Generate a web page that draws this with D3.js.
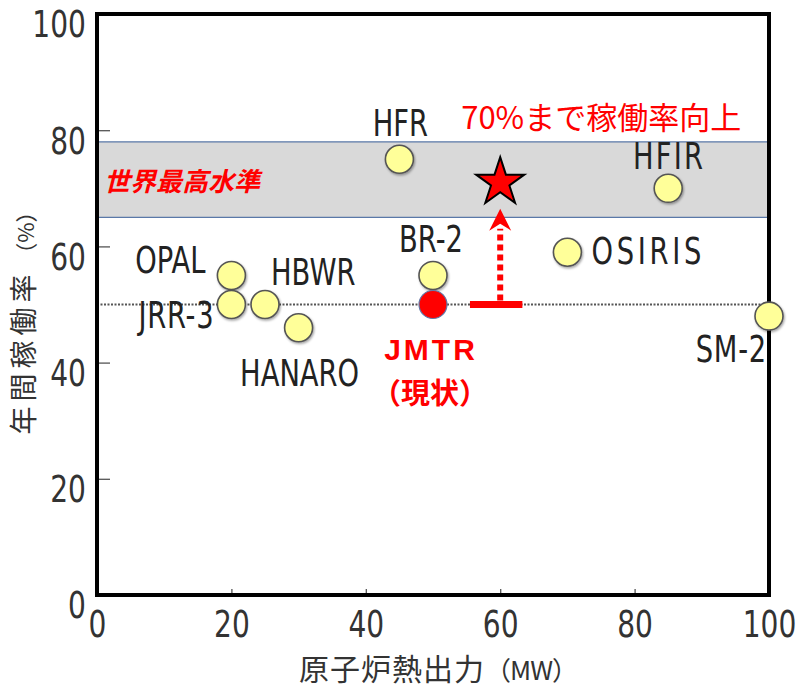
<!DOCTYPE html>
<html>
<head>
    <meta charset="utf-8" />
    <title>JMTR 稼働率</title>
    <script src="https://d3js.org/d3.v7.min.js"></script>
    <style>
        body { margin: 0; background: #fff; }
        .tick text { font-family: "DejaVu Sans", sans-serif; fill: #333; }
        .lbl { font-family: "DejaVu Sans", sans-serif; fill: #222; }
        .jp { font-family: "Noto Sans CJK JP", sans-serif; }
    </style>
</head>
<body>
<svg width="808" height="692"></svg>
<script>
// reactors: thermal power (MW) and annual operating rate (%)
const names  = ["OPAL", "JRR-3", "HBWR", "HANARO", "BR-2", "HFR", "OSIRIS", "HFIR", "SM-2"];
const power  = [20, 20, 25, 30, 50, 45, 70, 85, 100];
const rate   = [55, 50, 50, 46, 55, 75, 59, 70, 48];

const jmtr = {name: "JMTR", power: 50, rate: 50};
const target = {power: 60, rate: 71};
const arrowFrom = 50, arrowTo = 66.5;
const barFrom = 55.5, barTo = 63.3;
const bandLow = 65, bandHigh = 78;
const refLine = 50;

const xTicks = [0, 20, 40, 60, 80, 100];
const yTicks = [0, 20, 40, 60, 80, 100];

const svg = d3.select('svg');
const width = +svg.attr('width');
const height = +svg.attr('height');

const narrow = 0.74;   // the original uses a condensed gothic face

// label placement for each reactor name
const labelPos = {
    "OPAL":   {dx: -26, dy: -2,  anchor: "end"},
    "JRR-3":  {dx: -17, dy: 23,  anchor: "end", spacing: 1},
    "HBWR":   {dx: 6,   dy: -20, anchor: "start"},
    "HANARO": {dx: 1,   dy: 58,  anchor: "middle"},
    "BR-2":   {dx: -2,  dy: -23, anchor: "middle"},
    "HFR":    {dx: 1,   dy: -23, anchor: "middle"},
    "OSIRIS": {dx: 24,  dy: 12,  anchor: "start", spacing: 5},
    "HFIR":   {dx: 1,   dy: -19, anchor: "middle", spacing: 3},
    "SM-2":   {dx: -2,  dy: 46,  anchor: "end", spacing: 1}
};

const render = () => {
    const margin = {top: 14, right: 39, bottom: 97, left: 97};
    const innerwidth = width - margin.left - margin.right;
    const innerheight = height - margin.top - margin.bottom;

    const defs = svg.append('defs');
    const f = defs.append('filter').attr('id', 'sh')
        .attr('x', '-30%').attr('y', '-30%').attr('width', '160%').attr('height', '160%');
    f.append('feDropShadow').attr('dx', 1).attr('dy', 1.5)
        .attr('stdDeviation', 1).attr('flood-color', '#000').attr('flood-opacity', 0.35);

    const g = svg.append('g')
        .attr('transform', "translate(" + margin.left + "," + margin.top + ")");

    const xscale = d3.scaleLinear().domain([0, 100]).range([0, innerwidth]);
    const yscale = d3.scaleLinear().domain([0, 100]).range([innerheight, 0]);

    // world top level band
    g.append('rect')
        .attr('x', 0).attr('width', innerwidth)
        .attr('y', yscale(bandHigh))
        .attr('height', yscale(bandLow) - yscale(bandHigh))
        .attr('fill', '#d9d9d9');
    [bandLow, bandHigh].forEach(v => {
        g.append('line')
            .attr('x1', 0).attr('x2', innerwidth)
            .attr('y1', yscale(v)).attr('y2', yscale(v))
            .attr('stroke', '#5a78a8').attr('stroke-width', 1.2);
    });
    g.append('text')
        .attr('class', 'jp')
        .attr('x', 7).attr('y', yscale(bandHigh) + 49)
        .attr('fill', '#ff0000')
        .attr('font-size', 26).attr('font-weight', 'bold')
        .attr('font-style', 'italic')
        .text('世界最高水準');

    // current level dotted line
    g.append('line')
        .attr('x1', 0).attr('x2', innerwidth)
        .attr('y1', yscale(refLine)).attr('y2', yscale(refLine))
        .attr('stroke', '#555').attr('stroke-width', 2)
        .attr('stroke-dasharray', '2,1.5');

    // axes
    const yaxisG = g.append('g')
        .call(d3.axisRight(yscale).tickValues(yTicks).tickSize(13));
    yaxisG.select('.domain').remove();
    yaxisG.selectAll('.tick line').attr('stroke', '#555').attr('stroke-width', 1.3);
    yaxisG.selectAll('.tick text')
        .attr('text-anchor', 'end').attr('x', 0).attr('dy', '0.6em')
        .attr('transform', "translate(-11,0) scale(" + narrow + ",1)")
        .attr('font-size', 38);

    const xaxisG = g.append('g')
        .attr('transform', "translate(0," + innerheight + ")")
        .call(d3.axisTop(xscale).tickValues(xTicks).tickSize(6));
    xaxisG.select('.domain').remove();
    xaxisG.selectAll('.tick line').attr('stroke', '#555').attr('stroke-width', 1.3);
    xaxisG.selectAll('.tick text')
        .attr('y', 42).attr('dy', 0)
        .attr('transform', "scale(" + narrow + ",1)")
        .attr('font-size', 38);

    // frame
    g.append('rect')
        .attr('x', 0).attr('y', 0)
        .attr('width', innerwidth).attr('height', innerheight)
        .attr('fill', 'none').attr('stroke', '#000').attr('stroke-width', 4);

    // arrow from current to target
    const ax = xscale(target.power);
    g.append('line')
        .attr('x1', ax).attr('x2', ax)
        .attr('y1', yscale(arrowFrom) - 4).attr('y2', yscale(arrowTo) + 20)
        .attr('stroke', '#ff0000').attr('stroke-width', 6)
        .attr('stroke-dasharray', '6,4');
    const ah = yscale(arrowTo);
    g.append('path')
        .attr('d', "M" + ax + "," + ah + " L" + (ax + 11) + "," + (ah + 22) +
                   " L" + ax + "," + (ah + 15) + " L" + (ax - 11) + "," + (ah + 22) + "Z")
        .attr('fill', '#ff0000');
    g.append('line')
        .attr('x1', xscale(barFrom)).attr('x2', xscale(barTo))
        .attr('y1', yscale(refLine)).attr('y2', yscale(refLine))
        .attr('stroke', '#ff0000').attr('stroke-width', 7);

    // target star
    g.append('path')
        .attr('d', d3.symbol().type(d3.symbolStar).size(720)())
        .attr('transform', "translate(" + xscale(target.power) + "," + yscale(target.rate) + ")")
        .attr('fill', '#ff0000').attr('stroke', '#000').attr('stroke-width', 2)
        .attr('stroke-linejoin', 'miter');
    g.append('text')
        .attr('class', 'jp')
        .attr('x', xscale(target.power) + 101).attr('y', yscale(target.rate) - 53)
        .attr('text-anchor', 'middle')
        .attr('fill', '#ff0000').attr('font-size', 31)
        .text('70%まで稼働率向上');

    // reactors
    const data = names.map((n, i) => ({name: n, power: power[i], rate: rate[i]}));

    g.selectAll('circle.pt')
        .data(data)
        .enter()
        .append('circle')
        .attr('class', 'pt')
        .attr('cx', d => xscale(d.power))
        .attr('cy', d => yscale(d.rate))
        .attr('r', 14)
        .attr('fill', '#ffff99')
        .attr('stroke', '#555')
        .attr('stroke-width', 1.6)
        .attr('filter', 'url(#sh)');

    g.append('circle')
        .attr('cx', xscale(jmtr.power)).attr('cy', yscale(jmtr.rate))
        .attr('r', 14)
        .attr('fill', '#ff0000').attr('stroke', '#6078a8').attr('stroke-width', 1.2);

    g.selectAll('text.lbl')
        .data(data)
        .enter()
        .append('text')
        .attr('class', 'lbl')
        .attr('transform', d => "translate(" + (xscale(d.power) + labelPos[d.name].dx) + "," +
              (yscale(d.rate) + labelPos[d.name].dy) + ") scale(" + narrow + ",1)")
        .attr('text-anchor', d => labelPos[d.name].anchor)
        .attr('letter-spacing', d => labelPos[d.name].spacing || 0)
        .attr('font-size', 37)
        .text(d => d.name);

    g.append('text')
        .attr('x', xscale(jmtr.power) - 2).attr('y', yscale(jmtr.rate) + 55)
        .attr('text-anchor', 'middle')
        .attr('font-family', '"Liberation Sans", sans-serif')
        .attr('font-weight', 'bold').attr('font-size', 30)
        .attr('letter-spacing', 3)
        .attr('fill', '#ff0000')
        .text(jmtr.name);
    g.append('text')
        .attr('class', 'jp')
        .attr('x', xscale(jmtr.power) - 3).attr('y', yscale(jmtr.rate) + 99)
        .attr('text-anchor', 'middle')
        .attr('font-weight', 'bold').attr('font-size', 29)
        .attr('fill', '#ff0000')
        .text('（現状）');

    // axis titles
    const xt = g.append('text')
        .attr('class', 'jp')
        .attr('x', innerwidth / 2 + 5).attr('y', innerheight + 85)
        .attr('text-anchor', 'middle')
        .attr('fill', '#333').attr('font-size', 30)
        .attr('letter-spacing', 1)
        .text('原子炉熱出力');
    xt.append('tspan').attr('font-size', 26).attr('letter-spacing', -1).text('（MW）');

    const yt = g.append('text')
        .attr('class', 'jp')
        .attr('transform', "translate(" + (-63) + "," + (innerheight / 2 + 13) + ") rotate(-90)")
        .attr('text-anchor', 'middle')
        .attr('fill', '#333').attr('font-size', 28)
        .attr('letter-spacing', 5)
        .text('年間稼働率');
    yt.append('tspan').attr('font-size', 22).attr('letter-spacing', 0).text(' （%）');
};

render();
</script>
</body>
</html>
